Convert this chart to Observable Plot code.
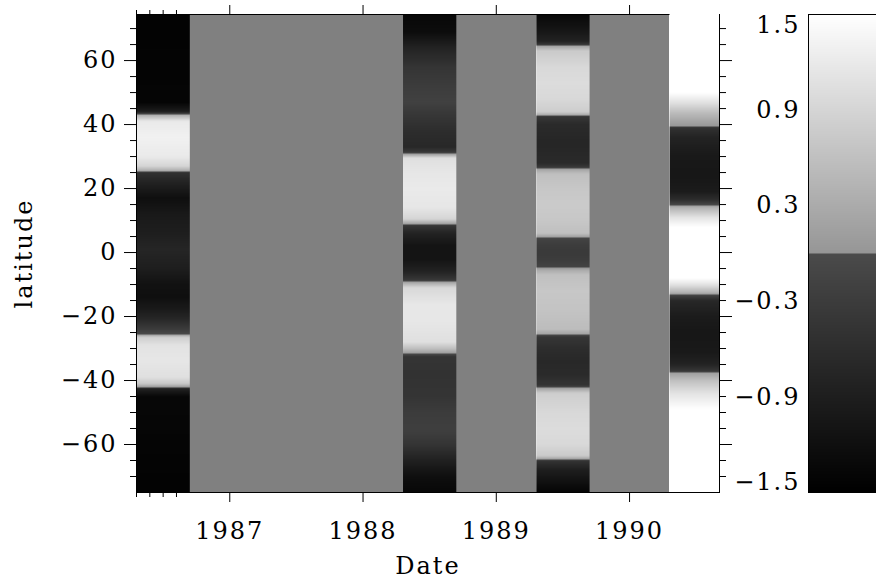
<!DOCTYPE html>
<html><head><meta charset="utf-8">
<script src="https://cdn.jsdelivr.net/npm/d3@7"></script>
<script src="https://cdn.jsdelivr.net/npm/@observablehq/plot@0.6"></script>
<style>
html,body{margin:0;padding:0;background:#fff;overflow:hidden;}
#wrap{position:relative;width:876px;height:583px;overflow:hidden;}
#wrap svg{position:absolute;top:0;}
</style></head><body><div id="wrap"></div>
<script>
// ---- data ----
const xDomain = [1986.3, 1990.675];
const yDomain = [-75, 74.4];
const majorYears = [1987, 1988, 1989, 1990];
const majorLat = [-60, -40, -20, 0, 20, 40, 60];
const cbTicks = [-1.5, -0.9, -0.3, 0.3, 0.9, 1.5];

// column time spans
const colStart = [1986.3, 1988.3, 1989.3, 1990.3];
const colEnd   = [1986.7, 1988.7, 1989.7, 1990.675];
// gaps (no data) shown in mid grey
const gapStart = [1986.7, 1988.7, 1989.7];
const gapEnd   = [1988.3, 1989.3, 1990.3];

// latitude profiles (north to south) for each column
const lat1986 = [75, 47, 44, 43, 41, 36, 30, 27, 25.5, 25, 22, 17, 12, 6, 1, -5, -10, -14, -18, -21, -24, -25.5, -26.5, -29, -34, -39, -41, -42, -42.5, -45, -75];
const val1986 = [-1.45, -1.4, -0.9, 0.3, 1.2, 1.3, 1.2, 0.9, 0.3, -0.5, -0.8, -1.2, -1.0, -0.9, -0.75, -0.9, -1.15, -1.2, -0.95, -0.7, -0.3, -0.05, 0.8, 1.1, 1.15, 1.05, 0.7, 0.1, -0.8, -1.35, -1.45];

const lat1988 = [75, 69, 64, 58, 52, 47, 43, 38, 33, 31.5, 29.5, 25, 20, 14, 10.5, 9, 8.5, 6, 2, -2, -6, -8.5, -9.5, -11, -16, -22, -28, -30, -31.5, -32.5, -38, -45, -50, -56, -60, -65, -70, -75];
const val1988 = [-1.35, -1.25, -0.8, -0.45, -0.3, -0.2, -0.4, -0.6, -0.7, -0.4, 1.05, 1.15, 1.2, 1.15, 0.9, 0.2, -0.4, -0.8, -1.1, -1.1, -0.8, -0.4, 0.3, 0.95, 1.15, 1.15, 1.05, 0.6, 0.1, -0.45, -0.5, -0.45, -0.3, -0.25, -0.45, -0.85, -1.2, -1.35];

const lat1989 = [75, 70, 66, 65, 64.5, 63, 58, 53, 48, 44, 43, 42.5, 40, 34, 28, 26.8, 26, 24.5, 20, 15, 10, 6, 5, 4.4, 2, 0, -2, -4.5, -5.5, -7, -12, -18, -24, -25.5, -26.3, -30, -34, -38, -41.5, -42.5, -44, -50, -55, -60, -63.5, -64.5, -65.2, -68, -75];
const val1989 = [-1.35, -1.1, -0.8, -0.4, 0.2, 0.75, 0.95, 1.0, 0.95, 0.8, 0.3, -0.4, -0.65, -0.75, -0.65, -0.4, 0.2, 0.6, 0.7, 0.75, 0.7, 0.6, 0.2, -0.15, -0.3, -0.35, -0.3, -0.15, 0.3, 0.6, 0.7, 0.65, 0.55, 0.2, -0.4, -0.6, -0.7, -0.65, -0.45, 0.2, 0.8, 0.95, 1.0, 0.95, 0.75, 0.2, -0.5, -0.9, -1.4];

const lat1990 = [75, 50, 47, 44, 41, 39.5, 39, 36, 30, 24, 19, 16.5, 15, 14, 11, 8, 0, -8, -10, -12.5, -13.5, -15, -20, -25, -31, -35, -37, -37.5, -40, -44, -49, -75];
const val1990 = [1.5, 1.5, 1.1, 0.6, 0.2, 0.02, -0.5, -0.8, -1.0, -1.05, -0.95, -0.6, -0.1, 0.4, 1.1, 1.5, 1.5, 1.5, 1.1, 0.4, -0.2, -0.7, -0.95, -1.05, -1.0, -0.8, -0.4, 0.1, 0.6, 1.1, 1.5, 1.5];

// ---- build tables ----
const profiles = [[lat1986, val1986], [lat1988, val1988], [lat1989, val1989], [lat1990, val1990]];
const samples = profiles.map(([lats, vals], c) =>
  lats.flatMap((lat, i) => [{x: colStart[c], lat, v: vals[i]}, {x: colEnd[c], lat, v: vals[i]}]));
const gaps = gapStart.map((s, i) => ({x1: s, x2: gapEnd[i]}));
const minorYears = d3.range(19863, 19867).map(d => d / 10).filter(d => !Number.isInteger(d));
const minorLat = d3.range(-70, 75, 5).filter(d => d % 20 !== 0);

const colorScale = {type: "linear", domain: [-1.5, -0.0001, 0, 1.5],
  range: ["#000000", "#4b4b4b", "#969696", "#ffffff"], clamp: true};

const font = {fontFamily: "'DejaVu Serif', serif", fontSize: "24px", background: "transparent", color: "#000", letterSpacing: "2px", overflow: "visible"};

const column = (c) => Plot.raster(samples[c], {
  x: "x", y: "lat", fill: "v",
  x1: colStart[c], x2: colEnd[c], y1: -75, y2: 75,
  width: 4, height: 480, interpolate: "barycentric", clip: true
});

const main = Plot.plot({
  width: 876, height: 583,
  marginLeft: 136, marginRight: 157, marginTop: 14, marginBottom: 91,
  style: font,
  x: {domain: xDomain, axis: null},
  y: {domain: yDomain, axis: null},
  color: colorScale,
  marks: [
    Plot.rect(gaps, {x1: "x1", x2: "x2", y1: yDomain[0], y2: yDomain[1], fill: "#808080", shapeRendering: "crispEdges"}),
    column(0), column(1), column(2),
    Plot.frame({stroke: "#000"}),
    column(3),
    Plot.ruleX([xDomain[1]], {stroke: "#000"}),
    // bottom axis
    Plot.axisX({anchor: "bottom", ticks: majorYears, tickSize: 10, tickPadding: 19, tickFormat: d => String(d), label: null}),
    Plot.axisX({anchor: "bottom", ticks: minorYears, tickSize: 5, text: null, label: null}),
    // top axis
    Plot.axisX({anchor: "top", ticks: majorYears, tickSize: 10, text: null, label: null}),
    Plot.axisX({anchor: "top", ticks: minorYears, tickSize: 5, text: null, label: null}),
    // left axis
    Plot.axisY({anchor: "left", ticks: majorLat, tickSize: 12, tickPadding: 7, tickFormat: d => d3.format("")(d), label: null}),
    Plot.axisY({anchor: "left", ticks: minorLat, tickSize: 6, text: null, label: null}),
    // right axis
    Plot.axisY({anchor: "right", ticks: majorLat, tickSize: 12, text: null, label: null}),
    Plot.axisY({anchor: "right", ticks: minorLat, tickSize: 6, text: null, label: null}),
    Plot.text(["Date"], {frameAnchor: "bottom", dy: 74, textAnchor: "middle", lineAnchor: "middle", fontSize: 24}),
    Plot.text(["latitude"], {frameAnchor: "left", dx: -112, rotate: -90, textAnchor: "middle", lineAnchor: "middle", fontSize: 24})
  ]
});
main.style.left = "0px";

const fmt = d3.format(".1f");
const cb = Plot.plot({
  width: 150, height: 583,
  marginLeft: 78, marginRight: 0, marginTop: 14, marginBottom: 91,
  style: font,
  x: {domain: [0, 1], axis: null},
  y: {domain: [-1.5, 1.5], axis: null},
  color: colorScale,
  marks: [
    Plot.raster({x1: 0, x2: 1, y1: -1.5, y2: 1.5, width: 1, height: 478, fill: (x, y) => y, imageRendering: "auto"}),
    Plot.frame({stroke: "#000"}),
    Plot.text(cbTicks.slice(1, -1), {y: d => d, text: d => fmt(d), frameAnchor: "left", dx: -8, textAnchor: "end"}),
    Plot.text(cbTicks.slice(-1), {y: d => d, text: d => fmt(d), frameAnchor: "left", dx: -8, dy: 11, textAnchor: "end"}),
    Plot.text(cbTicks.slice(0, 1), {y: d => d, text: d => fmt(d), frameAnchor: "left", dx: -8, dy: -10, textAnchor: "end"})
  ]
});
cb.style.left = "730px";

const wrap = document.getElementById("wrap");
wrap.appendChild(main);
wrap.appendChild(cb);
</script></body></html>
